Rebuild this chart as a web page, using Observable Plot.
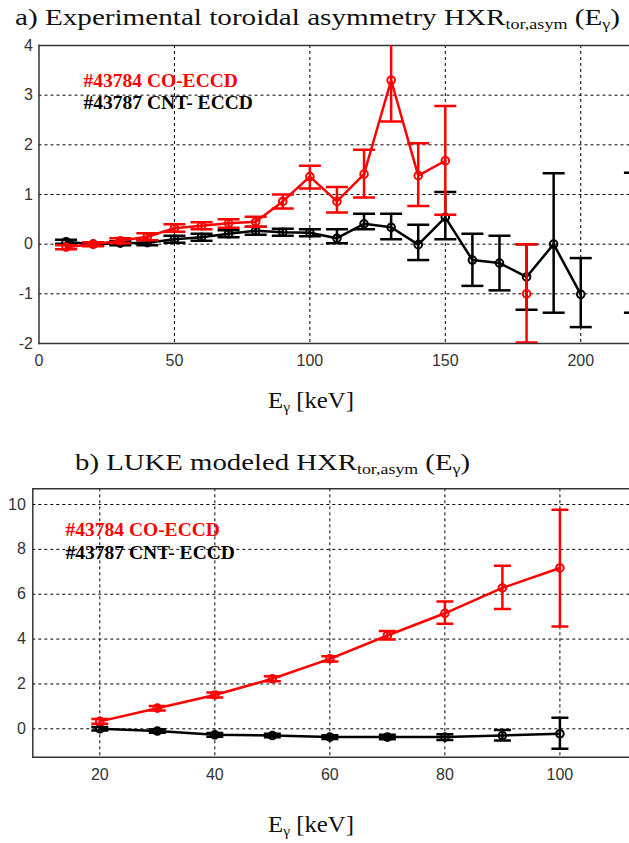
<!DOCTYPE html>
<html>
<head>
<meta charset="utf-8">
<script src="https://cdn.jsdelivr.net/npm/d3@7"></script>
<script src="https://cdn.jsdelivr.net/npm/@observablehq/plot@0.6"></script>
<style>
  html, body { margin: 0; padding: 0; background: #fff; }
  #root { position: relative; width: 629px; height: 843px; overflow: hidden; background: #fff; }
  .abs { position: absolute; white-space: nowrap; }
  .serif { font-family: "Liberation Serif", "Times New Roman", serif; color: #111; line-height: 1; }
  .serif sub { font-size: 0.62em; vertical-align: -0.25em; line-height: 0; }
</style>
</head>
<body>
<div id="root"></div>
<script>
// ---------- Panel a: experimental toroidal asymmetry ----------
const aEnergy = [10, 20, 30, 40, 50, 60, 70, 80, 90, 100, 110, 120, 130, 140, 150, 160, 170, 180, 190, 200, 210, 220];
const aCo     = [-0.06, 0.00, 0.07, 0.15, 0.32, 0.37, 0.42, 0.45, 0.86, 1.36, 0.86, 1.41, 3.30, 1.38, 1.68, null, null, -1.00, null, null, null, null];
const aCoLo   = [-0.10, -0.04, 0.02, 0.08, 0.25, 0.30, 0.33, 0.35, 0.72, 1.12, 0.64, 0.94, 2.47, 0.77, 0.59, null, null, -1.98, null, null, null, null];
const aCoHi   = [-0.02, 0.04, 0.12, 0.22, 0.40, 0.44, 0.50, 0.55, 1.00, 1.58, 1.15, 1.90, 4.20, 2.03, 2.78, null, null, 0.00, null, null, null, null];
const aCnt    = [0.05, 0.00, 0.02, 0.03, 0.10, 0.14, 0.21, 0.27, 0.24, 0.23, 0.12, 0.41, 0.34, -0.01, 0.54, -0.32, -0.38, -0.66, 0.00, -1.01, null, 0.03];
const aCntLo  = [0.01, -0.03, -0.02, -0.02, 0.03, 0.07, 0.14, 0.19, 0.17, 0.16, 0.02, 0.30, 0.10, -0.32, 0.10, -0.84, -0.93, -1.32, -1.38, -1.67, null, -1.38];
const aCntHi  = [0.09, 0.03, 0.06, 0.08, 0.17, 0.21, 0.28, 0.35, 0.31, 0.30, 0.30, 0.61, 0.61, 0.39, 1.05, 0.21, 0.17, 0.00, 1.43, -0.28, null, 1.44];
const aXTicks = [0, 50, 100, 150, 200];
const aYTicks = [-2, -1, 0, 1, 2, 3, 4];
const aXGrid  = [50, 100, 150, 200];
const aYGrid  = [-1, 0, 1, 2, 3];

// ---------- Panel b: LUKE modeled ----------
const bEnergy = [20, 30, 40, 50, 60, 70, 80, 90, 100];
const bCo     = [0.33, 0.92, 1.51, 2.23, 3.12, 4.16, 5.15, 6.28, 7.17];
const bCoLo   = [0.22, 0.82, 1.40, 2.12, 3.00, 3.98, 4.68, 5.34, 4.56];
const bCoHi   = [0.44, 1.02, 1.62, 2.34, 3.24, 4.36, 5.67, 7.27, 9.77];
const bCnt    = [0.00, -0.10, -0.27, -0.30, -0.37, -0.37, -0.37, -0.30, -0.22];
const bCntLo  = [-0.08, -0.18, -0.35, -0.38, -0.45, -0.47, -0.50, -0.52, -0.89];
const bCntHi  = [0.08, -0.02, -0.19, -0.22, -0.29, -0.27, -0.24, -0.05, 0.49];
const bXTicks = [20, 40, 60, 80, 100];
const bYTicks = [0, 2, 4, 6, 8, 10];

const legendCo  = "#43784 CO-ECCD";
const legendCnt = "#43787 CNT- ECCD";
const RED = "#ff0000", BLACK = "#000000";

const rows = (xs, ys, lo, hi) => xs.map((e, i) => ({e, y: ys[i], lo: lo[i], hi: hi[i]}));

// horizontal cap symbol: half-width equals r
const capSymbol = {draw(ctx, size) { const r = Math.sqrt(size / Math.PI); ctx.moveTo(-r, 0); ctx.lineTo(r, 0); }};

function seriesMarks(data, color, capR) {
  return [
    Plot.line(data, {x: "e", y: "y", stroke: color, strokeWidth: 2.5, clip: true}),
    Plot.ruleX(data.filter(d => d.lo != null), {x: "e", y1: "lo", y2: "hi", stroke: color, strokeWidth: 2.5, clip: true}),
    Plot.dot(data.filter(d => d.lo != null), {x: "e", y: "lo", symbol: capSymbol, r: capR, stroke: color, strokeWidth: 2.5, clip: true}),
    Plot.dot(data.filter(d => d.hi != null), {x: "e", y: "hi", symbol: capSymbol, r: capR, stroke: color, strokeWidth: 2.5, clip: true}),
    Plot.dot(data.filter(d => d.y != null), {x: "e", y: "y", r: 3.8, stroke: color, strokeWidth: 2, fill: "none", clip: true})
  ];
}

const fmt = d => String(d);

function panel({xDomain, yDomain, xTicks, yTicks, xGrid, yGrid, co, cnt, capR, width, height, mt, mb, ml, yPad, legendDx, legendDy1, legendDy2}) {
  return Plot.plot({
    width, height,
    marginTop: mt, marginBottom: mb, marginLeft: ml, marginRight: 0,
    style: {fontFamily: "'Liberation Sans', Arial, sans-serif", fontSize: "16px", color: "#333", background: "transparent"},
    x: {domain: xDomain, label: null},
    y: {domain: yDomain, label: null},
    marks: [
      Plot.gridY(yGrid, {stroke: BLACK, strokeOpacity: 1, strokeWidth: 1, strokeDasharray: "3,3"}),
      Plot.gridX(xGrid, {stroke: BLACK, strokeOpacity: 1, strokeWidth: 1, strokeDasharray: "3,3"}),
      Plot.frame({anchor: "left", stroke: "#333", strokeWidth: 1.5}),
      Plot.frame({anchor: "top", stroke: "#333", strokeWidth: 1.5}),
      Plot.frame({anchor: "bottom", stroke: "#333", strokeWidth: 1.5}),
      Plot.axisY(yTicks, {tickSize: 0, tickPadding: yPad, fontSize: 16, fill: "#333", tickFormat: fmt, label: null}),
      Plot.axisX(xTicks, {tickSize: 0, tickPadding: 11, fontSize: 16, fill: "#333", tickFormat: fmt, label: null}),
      ...seriesMarks(cnt, BLACK, capR),
      ...seriesMarks(co, RED, capR),
      Plot.text([legendCo], {text: d => d, frameAnchor: "top-left", dx: legendDx, dy: legendDy1, fill: RED, fontWeight: "bold", fontSize: 19.5, fontFamily: "'Liberation Serif', 'Times New Roman', serif", textAnchor: "start", lineAnchor: "middle"}),
      Plot.text([legendCnt], {text: d => d, frameAnchor: "top-left", dx: legendDx, dy: legendDy2, fill: BLACK, fontWeight: "bold", fontSize: 19.5, fontFamily: "'Liberation Serif', 'Times New Roman', serif", textAnchor: "start", lineAnchor: "middle"})
    ]
  });
}

const root = document.getElementById("root");
function place(el, left, top) {
  const w = document.createElement("div");
  w.className = "abs"; w.style.left = left + "px"; w.style.top = top + "px";
  w.appendChild(el); root.appendChild(w); return w;
}
function label(html, left, top, size, targetWidth, center) {
  const d = document.createElement("div");
  d.className = "abs serif"; d.style.fontSize = size + "px"; d.innerHTML = html;
  d.style.left = left + "px"; d.style.top = top + "px";
  root.appendChild(d);
  const w = d.getBoundingClientRect().width;
  const s = targetWidth / w;
  d.style.transformOrigin = "left top";
  d.style.transform = `scaleX(${s})`;
  if (center) d.style.left = (left - targetWidth / 2) + "px";
  return d;
}

const plotA = panel({
  xDomain: [0, 218], yDomain: [-2, 4], xTicks: aXTicks, yTicks: aYTicks, xGrid: aXGrid, yGrid: aYGrid,
  co: rows(aEnergy, aCo, aCoLo, aCoHi), cnt: rows(aEnergy, aCnt, aCntLo, aCntHi), capR: 11,
  width: 629, height: 420, mt: 45, mb: 77, ml: 38.5, yPad: 6,
  legendDx: 44.5, legendDy1: 35, legendDy2: 57.6
});
place(plotA, 0, 0);

const plotB = panel({
  xDomain: [8.35, 112.1], yDomain: [-1.266, 10.70], xTicks: bXTicks, yTicks: bYTicks, xGrid: bXTicks, yGrid: bYTicks,
  co: rows(bEnergy, bCo, bCoLo, bCoHi), cnt: rows(bEnergy, bCnt, bCntLo, bCntHi), capR: 8.5,
  width: 629, height: 403, mt: 48.3, mb: 86.3, ml: 32.3, yPad: 7,
  legendDx: 32.7, legendDy1: 41, legendDy2: 64.4
});
place(plotB, 0, 440);

label("a) Experimental toroidal asymmetry HXR<sub>tor,asym</sub> (E<sub>γ</sub>)", 15, 6, 23, 605, false);
label("E<sub>γ</sub> [keV]", 311, 389, 23, 86, true);
label("b) LUKE modeled HXR<sub>tor,asym</sub> (E<sub>γ</sub>)", 75, 451, 23, 395, false);
label("E<sub>γ</sub> [keV]", 311, 813, 23, 86, true);
</script>
</body>
</html>
